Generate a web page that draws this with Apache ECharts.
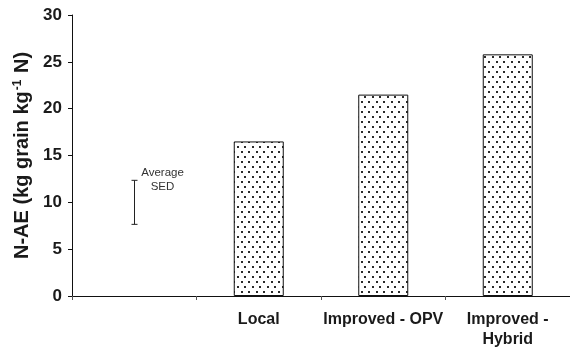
<!DOCTYPE html>
<html>
<head>
<meta charset="utf-8">
<script src="https://cdn.jsdelivr.net/npm/echarts@6/dist/echarts.min.js"></script>
<style>
html,body{margin:0;padding:0;background:#fff;}
#c{width:570px;height:351px;}
</style>
</head>
<body>
<div id="c"></div>
<script>
// ---- data ----
var categories = ['', 'Local', 'Improved - OPV', 'Improved -\nHybrid'];
var naeValues = ['-', 16.5, 21.5, 25.8];
var sedCategoryIndex = 0;
var sedLow = 7.65;
var sedHigh = 12.35;
var sedLabel = 'Average\nSED';
var yTicks = {min: 0, max: 30, interval: 5};

// ---- dotted pattern ----
function makePattern() {
  var cv = document.createElement('canvas');
  cv.width = 15; cv.height = 10;
  var ctx = cv.getContext('2d');
  ctx.fillStyle = '#ffffff';
  ctx.fillRect(0, 0, 15, 10);
  ctx.fillStyle = '#2a2a2a';
  var dots = [[1,1],[8,1],[4,6],[12,6]];
  dots.forEach(function(d){ ctx.fillRect(d[0], d[1], 2, 2); });
  return cv;
}

var chart = echarts.init(document.getElementById('c'), null, {renderer: 'canvas'});
var fontFam = '"Liberation Sans", Arial, sans-serif';

chart.setOption({
  animation: false,
  backgroundColor: '#fff',
  grid: {left: 72, right: -2, top: 15, bottom: 55, containLabel: false},
  xAxis: {
    type: 'category',
    data: categories,
    boundaryGap: true,
    axisLine: {lineStyle: {color: '#111', width: 1}},
    axisTick: {show: true, length: 4, alignWithLabel: false, lineStyle: {color: '#555'}},
    axisLabel: {
      margin: 14, color: '#1a1a1a', fontSize: 16, fontWeight: 'bold', fontFamily: fontFam,
      lineHeight: 20, interval: 0
    },
    splitLine: {show: false}
  },
  yAxis: {
    type: 'value',
    min: yTicks.min, max: yTicks.max, interval: yTicks.interval,
    name: 'N-AE (kg grain kg{sup|-1} N)',
    nameLocation: 'middle',
    nameGap: 37,
    nameRotate: 90,
    nameTextStyle: {
      color: '#1a1a1a', fontSize: 20, fontWeight: 'bold', fontFamily: fontFam,
      rich: {
        sup: {fontSize: 12, fontWeight: 'bold', fontFamily: fontFam, color: '#1a1a1a', verticalAlign: 'top', padding: [0, 1, 10, 1]}
      }
    },
    axisLine: {show: true, lineStyle: {color: '#111', width: 1}},
    axisTick: {show: true, length: 4, lineStyle: {color: '#111'}},
    axisLabel: {margin: 10, color: '#1a1a1a', fontSize: 17, fontWeight: 'bold', fontFamily: fontFam},
    splitLine: {show: false}
  },
  series: [
    {
      type: 'bar',
      data: naeValues,
      barWidth: 50,
      itemStyle: {
        color: {image: makePattern(), repeat: 'repeat'},
        borderColor: '#111',
        borderWidth: 1
      }
    },
    {
      type: 'custom',
      data: [[sedCategoryIndex, sedLow, sedHigh]],
      clip: false,
      renderItem: function(params, api) {
        var lo = api.coord([api.value(0), api.value(1)]);
        var hi = api.coord([api.value(0), api.value(2)]);
        var x = Math.round(lo[0]) + 0.5;
        var cap = 3;
        var st = {stroke: '#222', lineWidth: 1};
        return {
          type: 'group',
          children: [
            {type: 'line', shape: {x1: x, y1: hi[1], x2: x, y2: lo[1]}, style: st},
            {type: 'line', shape: {x1: x - cap, y1: hi[1], x2: x + cap, y2: hi[1]}, style: st},
            {type: 'line', shape: {x1: x - cap, y1: lo[1], x2: x + cap, y2: lo[1]}, style: st},
            {type: 'text', style: {
              text: sedLabel, x: x + 28, y: hi[1], align: 'center', verticalAlign: 'middle',
              fontSize: 11.5, lineHeight: 14, fontFamily: fontFam, fill: '#333'
            }}
          ]
        };
      }
    }
  ]
});
</script>
</body>
</html>
